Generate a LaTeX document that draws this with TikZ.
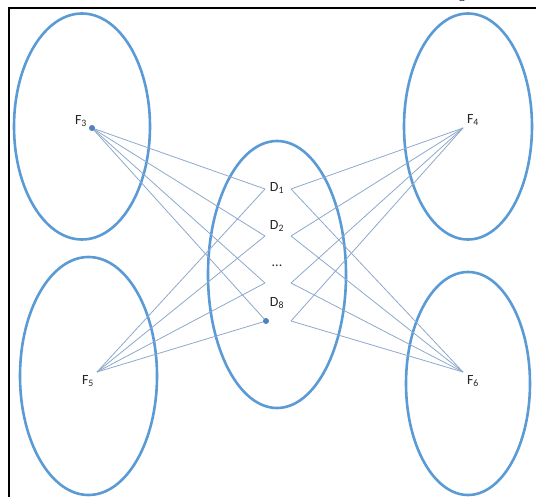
\documentclass[tikz,border=0pt]{standalone}
\usepackage{fontspec}
\setmainfont{Carlito}
\newfontfamily\serifg{Liberation Serif}
\definecolor{ellblue}{HTML}{5B9BD5}
\definecolor{linkblue}{HTML}{8EA9CC}
\definecolor{dotblue}{HTML}{4F81BD}
\begin{document}
\begin{tikzpicture}[x=1pt,y=-1pt,
  ell/.style={draw=ellblue,line width=2.6pt},
  link/.style={draw=linkblue,line width=0.8pt},
  lbl/.style={font=\fontsize{14}{16}\selectfont,inner sep=0pt,text=black!85},
  dotpt/.style={fill=dotblue,circle,inner sep=0pt,minimum size=6pt}]
\useasboundingbox (0,0) rectangle (536,497);
\clip (0,0) rectangle (536,497);
\fill[white] (0,0) rectangle (536,497);
% frame
\draw[line width=2pt,black] (9,8) rectangle (545,510);
\node[font=\serifg\fontsize{14}{16}\selectfont,inner sep=0pt] (gfrag) at (462,-4) {g};
% ellipses
\draw[ell] (82,126.5) ellipse [x radius=68pt, y radius=113pt];
\draw[ell] (468,126.5) ellipse [x radius=64pt, y radius=113pt];
\draw[ell] (277,274.5) ellipse [x radius=69pt, y radius=133.5pt];
\draw[ell] (88.5,376) ellipse [x radius=68.5pt, y radius=119pt];
\draw[ell] (468,383.5) ellipse [x radius=62pt, y radius=111.5pt];
% points
\coordinate (F3) at (92,128);
\coordinate (F4) at (463,128);
\coordinate (F5) at (97,372);
\coordinate (F6) at (463,372);
\coordinate (D1L) at (265,189);
\coordinate (D1R) at (291,189);
\coordinate (D2L) at (265,236);
\coordinate (D2R) at (291,236);
\coordinate (DdL) at (265,283);
\coordinate (DdR) at (291,283);
\coordinate (D8L) at (266,321);
\coordinate (D8R) at (291,321);
% links
\foreach \d in {D1L,D2L,DdL,D8L}{
  \draw[link] (F3) -- (\d);
  \draw[link] (F5) -- (\d);
}
\foreach \d in {D1R,D2R,DdR,D8R}{
  \draw[link] (F4) -- (\d);
  \draw[link] (F6) -- (\d);
}
\node[dotpt] (F3dot) at (F3) {};
\node[dotpt] (D8dot) at (D8L) {};
% labels
\node[lbl] (lF3) at (81,121) {F\textsubscript{3}};
\node[lbl] (lF4) at (473,120) {F\textsubscript{4}};
\node[lbl] (lF5) at (88,381) {F\textsubscript{5}};
\node[lbl] (lF6) at (473,381) {F\textsubscript{6}};
\node[lbl] (lD1) at (277,188) {D\textsubscript{1}};
\node[lbl] (lD2) at (277,226) {D\textsubscript{2}};
\node[lbl] (lDd) at (277,266) {...};
\node[lbl] (lD8) at (277,303) {D\textsubscript{8}};
\end{tikzpicture}
\end{document}
